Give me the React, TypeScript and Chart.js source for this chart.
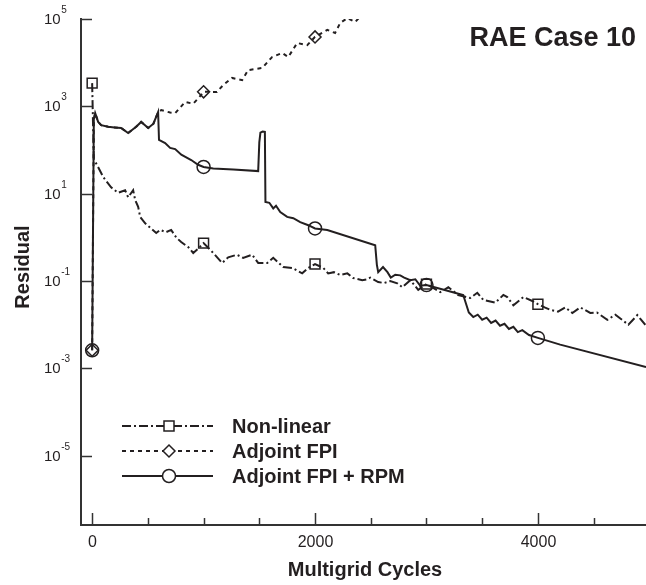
import React, { useEffect, useRef } from "react";
import { Chart, registerables } from "chart.js";

Chart.register(...registerables);

// ---------- data ----------
const nonLinearX = [0, 15, 45, 100, 170, 233, 296, 323, 368, 386, 413, 431, 476, 530, 575, 610, 664, 709, 754, 799, 862, 907, 950, 1000, 1087, 1167, 1221, 1300, 1355, 1436, 1490, 1571, 1625, 1715, 1795, 1885, 1940, 2000, 2074, 2118, 2170, 2226, 2290, 2343, 2424, 2469, 2495, 2567, 2620, 2675, 2738, 2783, 2855, 2926, 3000, 3060, 3124, 3196, 3285, 3393, 3456, 3510, 3618, 3690, 3725, 3780, 3870, 3950, 4000, 4060, 4111, 4180, 4246, 4309, 4380, 4470, 4530, 4623, 4695, 4812, 4892, 4964];
const nonLinearY = [3400, 60, 45, 24, 14, 10.5, 12, 8.3, 12, 7.2, 5.0, 2.95, 2.1, 1.6, 1.26, 1.48, 1.32, 1.48, 1.0, 0.78, 0.6, 0.44, 0.55, 0.74, 0.44, 0.26, 0.35, 0.4, 0.34, 0.4, 0.26, 0.26, 0.34, 0.21, 0.2, 0.15, 0.2, 0.245, 0.2, 0.15, 0.16, 0.138, 0.15, 0.117, 0.105, 0.11, 0.12, 0.095, 0.09, 0.1, 0.089, 0.072, 0.105, 0.063, 0.085, 0.07, 0.056, 0.072, 0.048, 0.041, 0.054, 0.037, 0.032, 0.048, 0.043, 0.028, 0.043, 0.035, 0.0295, 0.025, 0.022, 0.02, 0.025, 0.0186, 0.025, 0.0186, 0.019, 0.0129, 0.017, 0.01, 0.0166, 0.01];

// shared start of both adjoint runs
const adjointStartX = [0, 15, 27, 54, 81, 144, 200, 260, 323, 395, 440, 503, 550, 592];
const adjointStartY = [0.0026, 500, 700, 440, 370, 340, 330, 320, 245, 340, 440, 320, 400, 740];

const fpiTailX = [620, 700, 745, 835, 907, 960, 1000, 1120, 1177, 1256, 1346, 1400, 1526, 1615, 1705, 1760, 1840, 1930, 2000, 2110, 2180, 2226, 2290, 2360, 2400];
const fpiTailY = [820, 720, 700, 1260, 1150, 1600, 2150, 2140, 3090, 4470, 3980, 6760, 7590, 13500, 16600, 13500, 28200, 25100, 38900, 56200, 47900, 81300, 105000, 85100, 110000];

const rpmTailX = [600, 655, 700, 745, 800, 889, 951, 1000, 1087, 1266, 1490, 1500, 1510, 1530, 1550, 1555, 1590, 1625, 1650, 1688, 1750, 1805, 1867, 1940, 2000, 2110, 2540, 2555, 2567, 2610, 2650, 2680, 2720, 2765, 2800, 2855, 2900, 2944, 3000, 3303, 3330, 3380, 3420, 3460, 3500, 3540, 3580, 3620, 3660, 3700, 3740, 3780, 3820, 3860, 3920, 4000, 4200, 4970];
const rpmTailY = [170, 145, 112, 105, 78, 59, 46, 41, 38, 36, 33, 150, 250, 265, 260, 6.5, 6.2, 4.6, 5.3, 3.8, 2.95, 2.75, 2.24, 1.9, 1.6, 1.48, 0.66, 0.235, 0.16, 0.21, 0.16, 0.12, 0.14, 0.135, 0.12, 0.105, 0.11, 0.078, 0.081, 0.05, 0.048, 0.019, 0.015, 0.017, 0.013, 0.0145, 0.011, 0.0125, 0.0095, 0.0105, 0.008, 0.009, 0.0068, 0.0075, 0.0058, 0.005, 0.0035, 0.00107];

const nonLinearMarks = [0, 1000, 2000, 3000, 4000];
const fpiMarks = [0, 1000, 2000];
const rpmMarks = [0, 1000, 2000, 3000, 4000];

const seriesNames = ["Non-linear", "Adjoint FPI", "Adjoint FPI + RPM"];
const yTickExponents = [5, 3, 1, -1, -3, -5];
const xMajorTicks = [0, 2000, 4000];
const xMinorTicks = [500, 1000, 1500, 2500, 3000, 3500, 4500];

const titleText = "RAE Case 10";
const xTitle = "Multigrid Cycles";
const yTitle = "Residual";

// ---------- styling ----------
const INK = "#231f20";
const FONT = '"Liberation Sans", Arial, Helvetica, sans-serif';
const DASH_NL = [9, 3, 2, 3];
const DASH_FPI = [4, 4];
const DASH_RPM: number[] = [];

const toPoints = (xs: number[], ys: number[]) => xs.map((x, i) => ({ x, y: ys[i] }));

function drawMarker(ctx: CanvasRenderingContext2D, style: string, x: number, y: number, fill: string | null) {
  ctx.save();
  ctx.setLineDash([]);
  ctx.lineWidth = 1.5;
  ctx.strokeStyle = INK;
  ctx.beginPath();
  if (style === "rect") {
    ctx.rect(x - 5, y - 5, 10, 10);
  } else if (style === "rectRot") {
    ctx.moveTo(x - 6, y);
    ctx.lineTo(x, y - 6);
    ctx.lineTo(x + 6, y);
    ctx.lineTo(x, y + 6);
    ctx.closePath();
  } else {
    ctx.arc(x, y, 6.5, 0, Math.PI * 2);
  }
  if (fill) {
    ctx.fillStyle = fill;
    ctx.fill();
  }
  ctx.stroke();
  ctx.restore();
}

const decorPlugin = {
  id: "decor",
  afterDraw(chart: any) {
    const ctx: CanvasRenderingContext2D = chart.ctx;
    const area = chart.chartArea;
    const xs = chart.scales.x;
    const ys = chart.scales.y;
    ctx.save();
    ctx.strokeStyle = "#333";
    ctx.fillStyle = INK;
    ctx.lineWidth = 1.5;
    ctx.setLineDash([]);

    // y ticks (inward) + labels with superscript
    yTickExponents.forEach((e) => {
      const py = Math.round(ys.getPixelForValue(Math.pow(10, e))) + 0.5;
      ctx.beginPath();
      ctx.moveTo(area.left, py);
      ctx.lineTo(area.left + 11, py);
      ctx.stroke();
      ctx.font = `15px ${FONT}`;
      ctx.textAlign = "left";
      ctx.textBaseline = "middle";
      ctx.fillText("10", 44, py);
      const w = ctx.measureText("10").width;
      ctx.font = `10px ${FONT}`;
      ctx.textBaseline = "middle";
      ctx.fillText(String(e), 44 + w + 0.5, py - 9);
    });

    // x ticks (inward)
    xMajorTicks.forEach((v) => {
      const px = Math.round(xs.getPixelForValue(v)) + 0.5;
      ctx.beginPath();
      ctx.moveTo(px, area.bottom);
      ctx.lineTo(px, area.bottom - 12);
      ctx.stroke();
      ctx.font = `16px ${FONT}`;
      ctx.textAlign = "center";
      ctx.textBaseline = "middle";
      ctx.fillText(String(v), px, 543);
    });
    xMinorTicks.forEach((v) => {
      const px = Math.round(xs.getPixelForValue(v)) + 0.5;
      ctx.beginPath();
      ctx.moveTo(px, area.bottom);
      ctx.lineTo(px, area.bottom - 7);
      ctx.stroke();
    });

    // axis titles
    ctx.font = `bold 20px ${FONT}`;
    ctx.textAlign = "center";
    ctx.textBaseline = "middle";
    ctx.fillText(xTitle, 365, 570);
    ctx.save();
    ctx.translate(23, 267);
    ctx.rotate(-Math.PI / 2);
    ctx.fillText(yTitle, 0, 0);
    ctx.restore();

    // chart title inside plot
    ctx.font = `bold 27px ${FONT}`;
    ctx.textAlign = "right";
    ctx.textBaseline = "middle";
    ctx.fillText(titleText, 636, 39);

    // legend
    const dashes = [DASH_NL, DASH_FPI, DASH_RPM];
    const styles = ["rect", "rectRot", "circle"];
    seriesNames.forEach((name, i) => {
      const y = 426 + i * 25;
      ctx.save();
      ctx.strokeStyle = INK;
      ctx.lineWidth = 2;
      ctx.setLineDash(dashes[i]);
      ctx.beginPath();
      ctx.moveTo(122, y);
      ctx.lineTo(213, y);
      ctx.stroke();
      ctx.restore();
      drawMarker(ctx, styles[i], 169, y, "#fff");
      ctx.font = `bold 20px ${FONT}`;
      ctx.textAlign = "left";
      ctx.textBaseline = "middle";
      ctx.fillStyle = INK;
      ctx.fillText(name, 232, y + 1);
    });
    ctx.restore();
  },
};

function markerRadius(marks: number[], r: number) {
  return (c: any) => (c.raw && marks.includes(c.raw.x) ? r : 0);
}

export default function App() {
  const ref = useRef<HTMLCanvasElement | null>(null);
  useEffect(() => {
    if (!ref.current) return;
    const common = {
      borderColor: INK,
      borderWidth: 2,
      pointBorderColor: INK,
      pointBackgroundColor: "rgba(0,0,0,0)",
      pointBorderWidth: 1.5,
      pointHoverRadius: 0,
      tension: 0,
      fill: false,
    };
    const chart = new Chart(ref.current, {
      type: "line",
      data: {
        datasets: [
          {
            ...common,
            label: seriesNames[1],
            data: toPoints(adjointStartX.concat(fpiTailX), adjointStartY.concat(fpiTailY)),
            borderDash: DASH_FPI,
            pointStyle: "rectRot",
            pointRadius: markerRadius(fpiMarks, 6),
          },
          {
            ...common,
            label: seriesNames[0],
            data: toPoints(nonLinearX, nonLinearY),
            borderDash: DASH_NL,
            pointStyle: "rect",
            pointRadius: markerRadius(nonLinearMarks, 7),
          },
          {
            ...common,
            label: seriesNames[2],
            data: toPoints(adjointStartX.concat(rpmTailX), adjointStartY.concat(rpmTailY)),
            pointStyle: "circle",
            pointRadius: markerRadius(rpmMarks, 6.5),
          },
        ] as any,
      },
      options: {
        responsive: false,
        animation: false,
        devicePixelRatio: 1,
        layout: { autoPadding: false, padding: { left: 81, top: 19, right: 0, bottom: 60 } },
        plugins: { legend: { display: false }, tooltip: { enabled: false }, title: { display: false } },
        events: [],
        scales: {
          x: {
            type: "linear",
            min: -100,
            max: 4970,
            grid: { display: false, drawTicks: false },
            ticks: { display: false },
            border: { display: true, color: "#333", width: 2 },
            afterFit: (s: any) => { s.height = 0; },
          },
          y: {
            type: "logarithmic",
            min: 2.6e-7,
            max: 1e5,
            grid: { display: false, drawTicks: false },
            ticks: { display: false },
            border: { display: true, color: "#333", width: 2 },
            afterFit: (s: any) => { s.width = 0; },
          },
        },
      } as any,
      plugins: [decorPlugin],
    });
    return () => chart.destroy();
  }, []);
  return (
    <div style={{ position: "fixed", left: 0, top: 0, width: 646, height: 585, background: "#fff" }}>
      <canvas ref={ref} width={646} height={585} style={{ display: "block" }} />
    </div>
  );
}
